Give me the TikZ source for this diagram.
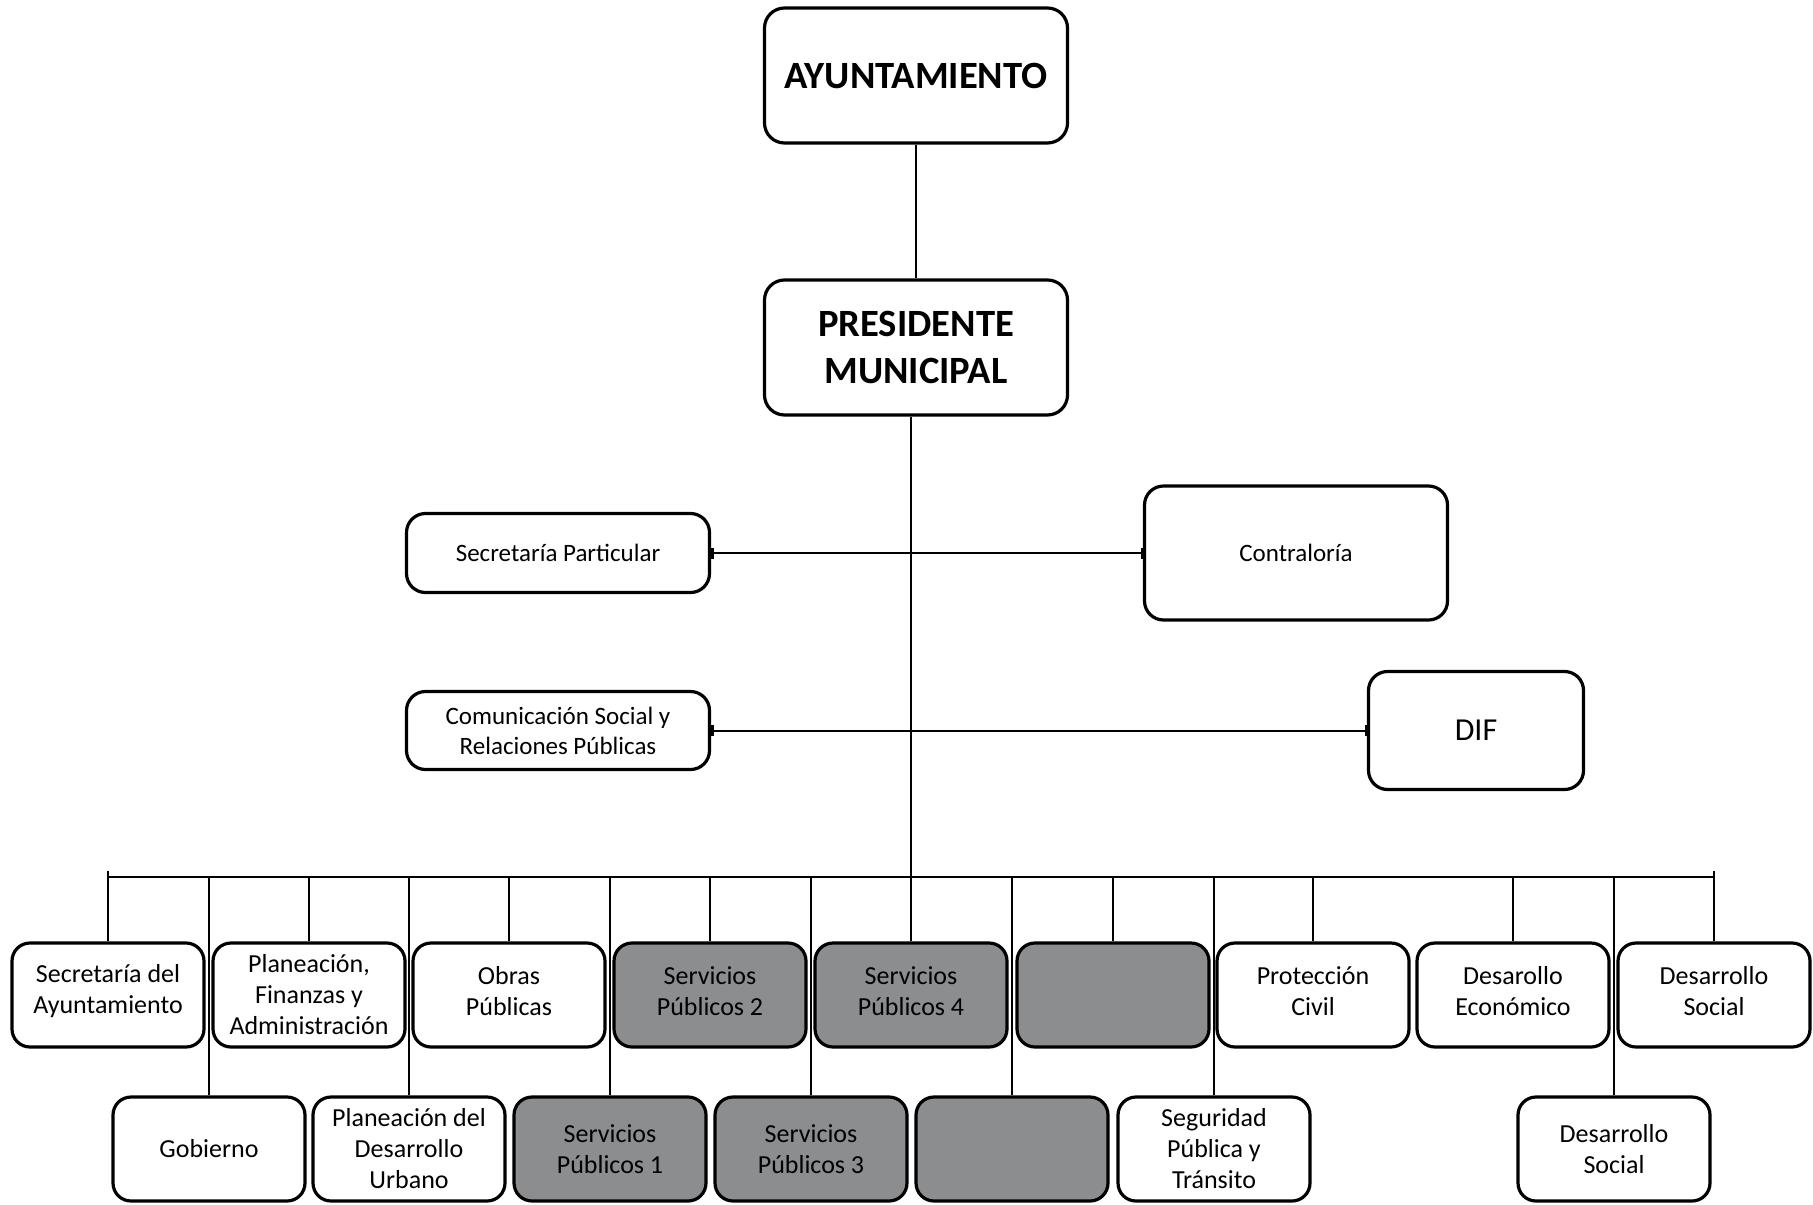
\documentclass[tikz,border=0pt]{standalone}
\usepackage{fontspec}
\setmainfont{Carlito}
\usetikzlibrary{arrows.meta}
\definecolor{boxgray}{RGB}{140,141,143}
\begin{document}
\begin{tikzpicture}[x=0.5pt,y=-0.5pt,
  box/.style={draw, line width=1.6pt, rounded corners=9.5pt, align=center, inner sep=2pt, font=\fontsize{13}{15.5}\selectfont},
  unit/.style={box, rounded corners=9pt, minimum width=96pt, minimum height=52pt},
  grayunit/.style={unit, fill=boxgray},
  lbl/.style={align=center, inner sep=0pt, font=\fontsize{13}{15.5}\selectfont},
  head/.style={box, rounded corners=10pt, minimum width=151.5pt, minimum height=67.5pt, font=\fontsize{19.3}{23.5}\selectfont\bfseries},
  mid/.style={box, minimum width=151.5pt, font=\fontsize{12.5}{15}\selectfont},
  conn/.style={line width=1pt},
  tick/.style={conn, {Bar[width=5.5pt,line width=1.2pt]}-{Bar[width=5.5pt,line width=1.2pt]}}
]
\useasboundingbox (0,0) rectangle (1813,1204);
% top
\node[head] (ayu) at (916,75.5) {AYUNTAMIENTO};
\node[head] (pres) at (916,347.5) {PRESIDENTE\\MUNICIPAL};
% middle
\node[mid, minimum height=39.5pt] (secpart) at (558,553) {Secretaría Particular};
\node[mid, minimum height=67pt] (contra) at (1296,553) {Contraloría};
\node[mid, minimum height=39pt] (comun) at (558,730.5) {Comunicación Social y\\Relaciones Públicas};
\node[box, minimum width=107.5pt, minimum height=59pt, font=\fontsize{16}{19}\selectfont] (dif) at (1476,730.5) {DIF};
% spine
\coordinate (spine) at (911,877);
\coordinate (tickY) at (0,871);
% upper row of units
\node[unit] (t1) at (108,995) {};
\node[lbl] (t1l) at ([yshift=2pt]t1.center) {Secretaría del\\Ayuntamiento};
\node[unit] (t2) at (309,995) {Planeación,\\Finanzas y\\Administración};
\node[unit] (t3) at (509,995) {};
\node[lbl] (t3l) at ([yshift=2pt]t3.center) {Obras\\Públicas};
\node[grayunit] (t4) at (710,995) {};
\node[lbl] (t4l) at ([yshift=2pt]t4.center) {Servicios\\Públicos 2};
\node[grayunit] (t5) at (911,995) {};
\node[lbl] (t5l) at ([yshift=2pt]t5.center) {Servicios\\Públicos 4};
\node[grayunit] (t6) at (1113,995) {};
\node[unit] (t7) at (1313,995) {};
\node[lbl] (t7l) at ([yshift=2pt]t7.center) {Protección\\Civil};
\node[unit] (t8) at (1513,995) {};
\node[lbl] (t8l) at ([yshift=2pt]t8.center) {Desarollo\\Económico};
\node[unit] (t9) at (1714,995) {};
\node[lbl] (t9l) at ([yshift=2pt]t9.center) {Desarrollo\\Social};
% lower row of units
\node[unit] (b1) at (209,1149) {Gobierno};
\node[unit] (b2) at (409,1149) {Planeación del\\Desarrollo\\Urbano};
\node[grayunit] (b3) at (610,1149) {Servicios\\Públicos 1};
\node[grayunit] (b4) at (811,1149) {Servicios\\Públicos 3};
\node[grayunit] (b5) at (1012,1149) {};
\node[unit] (b6) at (1214,1149) {Seguridad\\Pública y\\Tránsito};
\node[unit] (b7) at (1614,1149) {Desarrollo\\Social};
% connectors
\draw[conn] (ayu) -- (pres);
\draw[conn] (pres.south -| spine) -- (spine);
\draw[tick] (secpart.east) -- (contra.west);
\draw[tick] (comun.east) -- (dif.west);
\draw[conn] (t1.north |- spine) -- (t9.north |- spine);
\draw[conn] (t1.north) -- (t1.north |- tickY);
\draw[conn] (t9.north) -- (t9.north |- tickY);
\foreach \n in {t2,t3,t4,t5,t6,t7,t8,b1,b2,b3,b4,b5,b6,b7}
  \draw[conn] (\n.north) -- (\n.north |- spine);
\end{tikzpicture}
\end{document}
